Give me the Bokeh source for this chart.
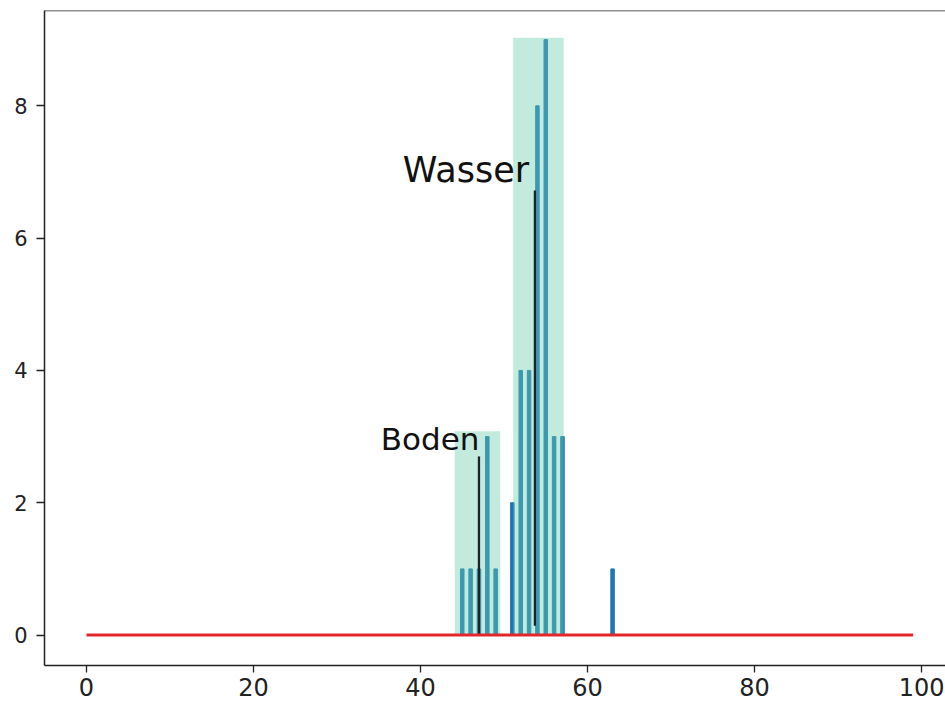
from bokeh.plotting import figure
from bokeh.models import Range1d, Span, FixedTicker
from bokeh.core.properties import value
from bokeh.embed import file_html
from bokeh.resources import INLINE

# ---- data ----
bin_x = [45, 46, 47, 48, 49, 51, 52, 53, 54, 55, 56, 57, 63]
bin_counts = [1, 1, 1, 3, 1, 2, 4, 4, 8, 9, 3, 3, 1]

region_names = ["Boden", "Wasser"]
region_left = [44.1, 51.1]
region_right = [49.55, 57.15]
region_top = [3.08, 9.03]

marker_x = [47.0, 53.7]
marker_bottom = [0.0, 0.14]
marker_top = [2.7, 6.72]

label_x = [47.05, 53.0]
label_y = [2.97, 7.03]

baseline_x = [0, 99]
baseline_y = [0, 0]

x_ticks = [0, 20, 40, 60, 80, 100]
y_ticks = [0, 2, 4, 6, 8]

X_START, X_END = -5.03, 102.87
Y_START, Y_END = -0.46, 9.44

label_font_sizes = ["31px", "35px"]

p = figure(output_backend="svg", toolbar_location=None,
           width=945, height=708,
           x_range=Range1d(X_START, X_END), y_range=Range1d(Y_START, Y_END),
           min_border_left=44, min_border_top=10, min_border_right=0, min_border_bottom=43)
p.background_fill_color = "white"
p.border_fill_color = "white"
p.outline_line_color = None
p.grid.visible = False

# bars
p.vbar(x=bin_x, top=bin_counts, bottom=0, width=0.42, color="#1f77b4")

# shaded regions over bars
p.quad(left=region_left, right=region_right, bottom=0, top=region_top,
       fill_color="#66cdaa", fill_alpha=0.4, line_color=None)

# marker lines
p.segment(x0=marker_x, x1=marker_x, y0=marker_bottom, y1=marker_top,
          line_color="#1c2226", line_width=2.3)

# labels
for i in range(len(region_names)):
    p.text(x=[label_x[i]], y=[label_y[i]], text=[region_names[i]], text_align="right",
           text_baseline="alphabetic", text_font=value("DejaVu Sans"),
           text_font_size=label_font_sizes[i], text_color="#111111")

# red baseline
p.line(baseline_x, baseline_y, line_color="#e3262b", line_width=3)

# top spine
p.add_layout(Span(location=Y_END, dimension="width", line_color="#222222", line_width=1.5))

for ax in (p.xaxis, p.yaxis):
    ax.axis_line_color = "#222222"
    ax.axis_line_width = 1.5
    ax.major_tick_line_color = "#222222"
    ax.major_tick_line_width = 1.3
    ax.major_tick_in = 0
    ax.minor_tick_line_color = None
    ax.major_label_text_font = "DejaVu Sans"
    ax.major_label_text_color = "#222222"

p.xaxis.ticker = FixedTicker(ticks=x_ticks)
p.yaxis.ticker = FixedTicker(ticks=y_ticks)
p.xaxis.major_tick_out = 7
p.yaxis.major_tick_out = 8
p.xaxis.major_label_text_font_size = "24px"
p.yaxis.major_label_text_font_size = "21px"
p.xaxis.major_label_standoff = 5
p.yaxis.major_label_standoff = 9

open("out.html", "w").write(file_html(p, INLINE))
